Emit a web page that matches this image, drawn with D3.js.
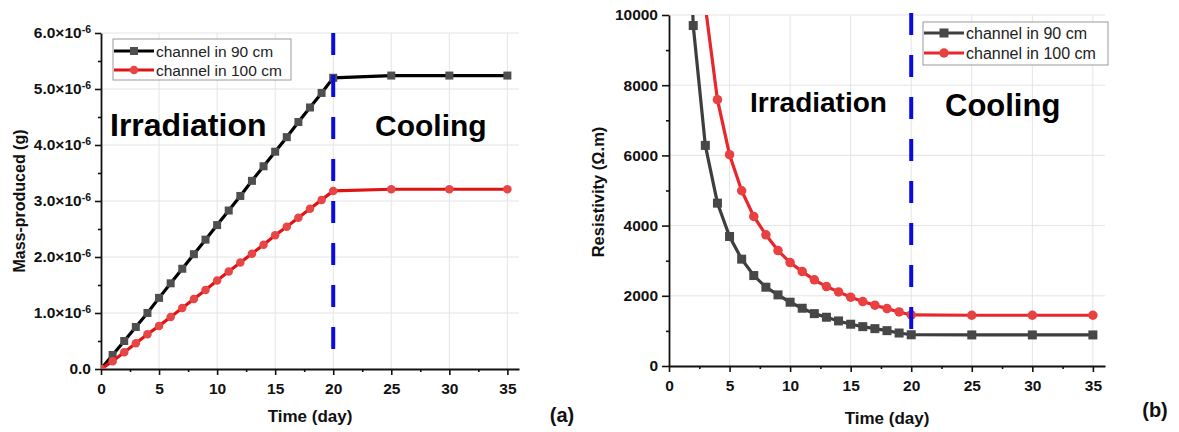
<!DOCTYPE html>
<html>
<head>
<meta charset="utf-8">
<script src="https://cdn.jsdelivr.net/npm/d3@7"></script>
<style>
  body { margin: 0; background: #fff; }
  text { font-family: "Liberation Sans", Arial, sans-serif; }
</style>
</head>
<body>
<div id="viz"></div>
<script>
// ---- data ----
const daysA = [0,1,2,3,4,5,6,7,8,9,10,11,12,13,14,15,16,17,18,19,20,25,30,35];
const mass90 = [0,0.25e-6,0.50e-6,0.75e-6,1.00e-6,1.27e-6,1.53e-6,1.79e-6,2.05e-6,2.31e-6,2.57e-6,2.83e-6,3.09e-6,3.36e-6,3.62e-6,3.88e-6,4.14e-6,4.41e-6,4.67e-6,4.93e-6,5.20e-6,5.24e-6,5.24e-6,5.24e-6];
const mass100 = [0,0.14e-6,0.30e-6,0.46e-6,0.62e-6,0.77e-6,0.93e-6,1.09e-6,1.25e-6,1.41e-6,1.58e-6,1.74e-6,1.90e-6,2.06e-6,2.22e-6,2.39e-6,2.54e-6,2.70e-6,2.86e-6,3.02e-6,3.18e-6,3.21e-6,3.21e-6,3.21e-6];

const daysB = [1,2,3,4,5,6,7,8,9,10,11,12,13,14,15,16,17,18,19,20,25,30,35];
const res90 = [19400,9700,6285,4640,3690,3044,2577,2245,2026,1817,1646,1492,1389,1284,1190,1121,1064,1007,940,890,885,885,885];
const res100 = [31500,15900,10250,7589,6020,4993,4260,3738,3290,2947,2690,2454,2263,2111,1960,1835,1732,1635,1540,1455,1446,1446,1446];

const xTicks = [0,5,10,15,20,25,30,35];
const xMinor = [2.5,7.5,12.5,17.5,22.5,27.5,32.5];
const massTicks = [0,1e-6,2e-6,3e-6,4e-6,5e-6,6e-6];
const massMinor = [0.5e-6,1.5e-6,2.5e-6,3.5e-6,4.5e-6,5.5e-6];
const resTicks = [0,2000,4000,6000,8000,10000];
const resMinor = [1000,3000,5000,7000,9000];
const legendLabels = ['channel in 90 cm', 'channel in 100 cm'];
const switchDay = 20;

const svg = d3.select('#viz')
    .append('svg')
    .attr('width', 1179)
    .attr('height', 432);

function drawPanel(p) {
    const g = svg.append('g');
    const x = d3.scaleLinear().domain([0, 36]).range([p.left, p.right]);
    const y = d3.scaleLinear().domain(p.yDomain).range([p.bottom, p.top]);

    // grid
    g.append('g').selectAll('line').data(xTicks.slice(1)).enter().append('line')
        .attr('x1', d => x(d)).attr('x2', d => x(d))
        .attr('y1', p.top).attr('y2', p.bottom)
        .attr('stroke', '#e4e4e4').attr('stroke-width', 1);
    g.append('g').selectAll('line').data(p.yTicks.slice(1)).enter().append('line')
        .attr('x1', p.left).attr('x2', p.right)
        .attr('y1', d => y(d)).attr('y2', d => y(d))
        .attr('stroke', '#e4e4e4').attr('stroke-width', 1);

    // axes
    g.append('g')
        .attr('transform', 'translate(0,' + p.bottom + ')')
        .call(d3.axisBottom(x).tickValues(xTicks).tickSize(6).tickSizeOuter(0).tickPadding(7.5));
    g.append('g')
        .attr('transform', 'translate(0,' + p.bottom + ')')
        .call(d3.axisBottom(x).tickValues(xMinor).tickSize(3).tickSizeOuter(0).tickFormat(''))
        .select('.domain').remove();
    const yAxis = g.append('g')
        .attr('transform', 'translate(' + p.left + ',0)')
        .call(d3.axisLeft(y).tickValues(p.yTicks).tickSize(p.tick).tickSizeOuter(0)
            .tickPadding(4).tickFormat(d3.format('d')));
    g.append('g')
        .attr('transform', 'translate(' + p.left + ',0)')
        .call(d3.axisLeft(y).tickValues(p.yMinor).tickSize(3).tickSizeOuter(0).tickFormat(''))
        .select('.domain').remove();

    g.selectAll('.tick line').attr('stroke', '#111').attr('stroke-width', 1.6);
    g.selectAll('.domain').attr('stroke', '#111').attr('stroke-width', 1.8);
    g.selectAll('.tick text')
        .attr('font-family', '"Liberation Sans", Arial, sans-serif')
        .attr('font-size', 15.5).attr('font-weight', 'bold').attr('fill', '#111');

    if (p.sciLabels) {
        yAxis.selectAll('.tick text').each(function(d) {
            const t = d3.select(this).text(null);
            if (d === 0) { t.text('0.0'); return; }
            t.append('tspan').text((d * 1e6).toFixed(1) + '×10');
            t.append('tspan').attr('dy', '-0.5em').attr('font-size', 10.5).text('-6');
        });
    }

    // axis titles
    g.append('text')
        .attr('x', (p.left + p.right) / 2).attr('y', p.xTitleY)
        .attr('text-anchor', 'middle').attr('dominant-baseline', 'central')
        .attr('font-size', 17).attr('font-weight', 'bold').attr('fill', '#111')
        .text('Time (day)');
    g.append('text')
        .attr('transform', 'translate(' + p.yTitleX + ',' + p.yTitleY + ') rotate(-90)')
        .attr('text-anchor', 'middle').attr('dominant-baseline', 'central')
        .attr('font-size', p.yTitleSize).attr('font-weight', 'bold').attr('fill', '#111')
        .text(p.yTitle);

    // annotations
    p.notes.forEach(n => {
        g.append('text').attr('x', n.x).attr('y', n.y)
            .attr('font-size', n.size).attr('font-weight', 'bold').attr('fill', '#000')
            .text(n.text);
    });

    // clip
    const clipId = 'clip' + p.id;
    svg.append('clipPath').attr('id', clipId)
        .append('rect').attr('x', p.left).attr('y', p.top)
        .attr('width', p.right - p.left).attr('height', p.bottom - p.top);
    const plot = g.append('g').attr('clip-path', 'url(#' + clipId + ')');

    const line = d3.line().x(d => x(d[0])).y(d => y(d[1]));
    p.series.forEach(s => {
        const pts = p.days.map((d, i) => [d, s.values[i]]);
        plot.append('path').datum(pts)
            .attr('d', line).attr('fill', 'none')
            .attr('stroke', s.line).attr('stroke-width', 3.2);
        drawMarkers(plot, pts.map(d => [x(d[0]), y(d[1])]), s);
    });

    // vertical dashed line
    g.append('line')
        .attr('x1', x(switchDay)).attr('x2', x(switchDay))
        .attr('y1', p.dashTop).attr('y2', y(p.dashBottom))
        .attr('stroke', '#0b0bdf').attr('stroke-width', 4)
        .attr('stroke-dasharray', '22,20');

    // legend
    const lg = g.append('g').attr('transform', 'translate(' + p.legend.x + ',' + p.legend.y + ')');
    lg.append('rect').attr('width', p.legend.w).attr('height', p.legend.h)
        .attr('fill', '#fff').attr('stroke', '#9a9a9a').attr('stroke-width', 1);
    p.series.forEach((s, i) => {
        const yy = p.legend.rows[i];
        lg.append('line').attr('x1', 1).attr('x2', 41).attr('y1', yy).attr('y2', yy)
            .attr('stroke', s.line).attr('stroke-width', 3.2);
        drawMarkers(lg, [[21, yy]], s);
        lg.append('text').attr('x', 43).attr('y', yy)
            .attr('dominant-baseline', 'central')
            .attr('font-size', p.legend.size).attr('fill', '#222')
            .text(legendLabels[i]);
    });

    // panel letter
    svg.append('text').attr('x', p.letter.x).attr('y', p.letter.y)
        .attr('text-anchor', 'middle').attr('dominant-baseline', 'central')
        .attr('font-size', 20).attr('font-weight', 'bold').attr('fill', '#111')
        .text(p.letter.text);
}

function drawMarkers(sel, pts, s) {
    if (s.shape === 'square') {
        sel.append('g').selectAll('rect').data(pts).enter().append('rect')
            .attr('x', d => d[0] - s.size / 2).attr('y', d => d[1] - s.size / 2)
            .attr('width', s.size).attr('height', s.size)
            .attr('fill', s.marker);
    } else {
        sel.append('g').selectAll('circle').data(pts).enter().append('circle')
            .attr('cx', d => d[0]).attr('cy', d => d[1]).attr('r', s.size / 2)
            .attr('fill', s.marker);
    }
}

drawPanel({
    id: 'a', left: 101, right: 519, top: 33, bottom: 369,
    yDomain: [0, 6e-6], yTicks: massTicks, yMinor: massMinor, tick: 6, sciLabels: true,
    xTitleY: 416, yTitleX: 19, yTitleY: 201, yTitleSize: 16, yTitle: 'Mass-produced (g)',
    days: daysA,
    series: [
        { values: mass90, line: '#000', marker: '#4f4f4f', shape: 'square', size: 8 },
        { values: mass100, line: '#e01313', marker: '#e84646', shape: 'circle', size: 8.5 }
    ],
    dashTop: 33, dashBottom: 0,
    notes: [
        { text: 'Irradiation', x: 110, y: 136, size: 32 },
        { text: 'Cooling', x: 375, y: 136, size: 30 }
    ],
    legend: { x: 113, y: 39, w: 178, h: 41, rows: [12, 31], size: 15.5 },
    letter: { text: '(a)', x: 562, y: 415 }
});

drawPanel({
    id: 'b', left: 669, right: 1105, top: 15, bottom: 366,
    yDomain: [0, 10000], yTicks: resTicks, yMinor: resMinor, tick: 7, sciLabels: false,
    xTitleY: 418, yTitleX: 598, yTitleY: 192, yTitleSize: 16.5, yTitle: 'Resistivity (Ω.m)',
    days: daysB,
    series: [
        { values: res90, line: '#3e3e3e', marker: '#474747', shape: 'square', size: 9 },
        { values: res100, line: '#e8262c', marker: '#e94141', shape: 'circle', size: 9.5 }
    ],
    dashTop: 13, dashBottom: 650,
    notes: [
        { text: 'Irradiation', x: 750, y: 112, size: 28 },
        { text: 'Cooling', x: 945, y: 116, size: 31 }
    ],
    legend: { x: 923, y: 22, w: 185, h: 43, rows: [11, 31], size: 16 },
    letter: { text: '(b)', x: 1155, y: 410 }
});
</script>
</body>
</html>
